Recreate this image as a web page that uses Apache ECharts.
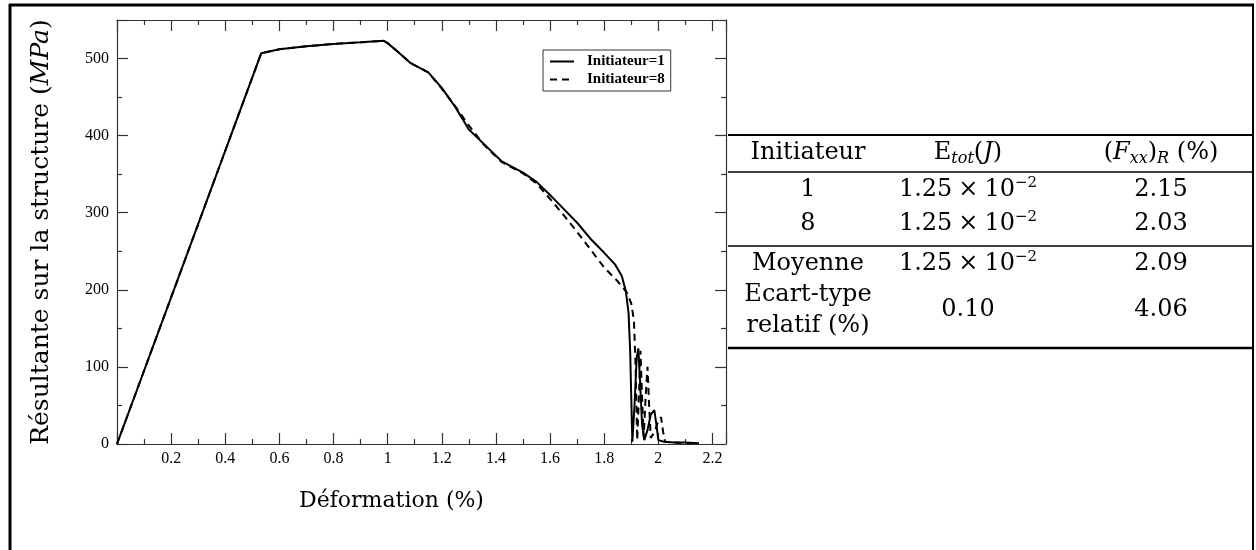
<!DOCTYPE html>
<html lang="fr">
<head>
  <meta charset="UTF-8" />
  <title>Résultante sur la structure</title>
  <script src="https://cdn.jsdelivr.net/npm/echarts@6/dist/echarts.min.js"></script>
  <style>
    html, body { margin: 0; padding: 0; background: #fff; }
    #chart { width: 1256px; height: 550px; }
  </style>
</head>
<body>
  <div id="chart"></div>
  <script>
    // courbe Initiateur=1 : [déformation %, résultante MPa]
    const init1 = [
      [0, 0], [0.533, 507], [0.6, 512], [0.7, 516], [0.8, 519], [0.9, 521], [0.985, 523],
      [1.0, 520], [1.05, 505], [1.085, 494], [1.15, 482], [1.2, 462], [1.25, 437],
      [1.3, 408], [1.356, 389], [1.42, 367], [1.5, 352], [1.55, 340], [1.6, 323],
      [1.65, 305], [1.7, 287], [1.75, 266], [1.8, 248], [1.84, 233], [1.865, 218],
      [1.88, 198], [1.89, 170], [1.896, 120], [1.9, 60], [1.904, 3], [1.912, 50],
      [1.92, 112], [1.926, 124], [1.932, 85], [1.94, 25], [1.948, 5], [1.96, 18],
      [1.972, 38], [1.985, 44], [1.993, 25], [2.0, 5], [2.02, 3], [2.06, 2], [2.1, 2], [2.15, 1]
    ];
    // courbe Initiateur=8
    const init8 = [
      [0, 0], [0.533, 507], [0.6, 512], [0.7, 516], [0.8, 519], [0.9, 521], [0.985, 523],
      [1.0, 520], [1.05, 505], [1.085, 494], [1.15, 482], [1.2, 461], [1.25, 438],
      [1.3, 413], [1.356, 388], [1.42, 366], [1.5, 351], [1.55, 338], [1.6, 318],
      [1.65, 297], [1.7, 275], [1.75, 252], [1.8, 229], [1.85, 211], [1.885, 196],
      [1.9, 182], [1.91, 160], [1.916, 100], [1.922, 5], [1.928, 60], [1.934, 121],
      [1.94, 60], [1.946, 10], [1.953, 60], [1.96, 100], [1.966, 50], [1.972, 8],
      [1.985, 15], [2.0, 30], [2.01, 35], [2.018, 15], [2.025, 3], [2.05, 2], [2.1, 1], [2.15, 1]
    ];
    const seriesNames = ['Initiateur=1', 'Initiateur=8'];

    // tableau
    const colInit = ['1', '8', 'Moyenne', 'Ecart-type\nrelatif (%)'];
    const colEnergy = ['1.25', '1.25', '1.25', '0.10'];
    const energyExp = [-2, -2, -2, null];
    const colFxx = ['2.15', '2.03', '2.09', '4.06'];

    const serif = 'DejaVu Serif';
    const mkRich = fs => ({
      n: { fontFamily: serif, fontSize: fs, lineHeight: 28, color: '#000' },
      it: { fontFamily: serif, fontSize: fs, lineHeight: 28, fontStyle: 'italic', color: '#000' },
      sp: { fontFamily: serif, fontSize: fs, lineHeight: 28, color: '#000', width: 6 },
      sup: { fontFamily: serif, fontSize: 15, lineHeight: 14, verticalAlign: 'top', color: '#000' },
      subi: { fontFamily: serif, fontSize: 16, lineHeight: 14, verticalAlign: 'bottom', fontStyle: 'italic', color: '#000' }
    });
    const rich = mkRich(24);

    const colX = [808, 968, 1161];
    const rowY = [190, 224, 264, 310];

    const txt = (x, y, s) => ({
      type: 'text', x: x, y: y,
      style: { text: s, rich: rich, align: 'center', verticalAlign: 'middle' }
    });
    const hline = (y, w) => ({
      type: 'line', shape: { x1: 728, y1: y, x2: 1253, y2: y },
      style: { stroke: '#000', lineWidth: w }
    });

    const graphics = [
      // cadre
      { type: 'line', shape: { x1: 10, y1: 4, x2: 10, y2: 550 }, style: { stroke: '#000', lineWidth: 3 } },
      { type: 'line', shape: { x1: 9, y1: 5, x2: 1254, y2: 5 }, style: { stroke: '#000', lineWidth: 3 } },
      { type: 'line', shape: { x1: 1253, y1: 4, x2: 1253, y2: 550 }, style: { stroke: '#000', lineWidth: 2 } },
      hline(135, 2), hline(172, 1.5), hline(246, 1.5), hline(348, 2.5),
      txt(colX[0], 153, '{n|Initiateur}'),
      txt(colX[1], 153, '{n|E}{subi|tot}{n|(}{it|J}{n|)}'),
      txt(colX[2], 153, '{n|(}{it|F}{subi|xx}{n|)}{subi|R}{n| (%)}')
    ];
    colInit.forEach((s, i) => {
      if (s.includes('\n')) {
        graphics.push({
          type: 'text', x: colX[0], y: rowY[i],
          style: { text: s, font: '24px "DejaVu Serif"', fill: '#000', align: 'center',
                   verticalAlign: 'middle', lineHeight: 31 }
        });
      } else {
        graphics.push(txt(colX[0], rowY[i], '{n|' + s + '}'));
      }
      const e = energyExp[i] === null ? '{n|' + colEnergy[i] + '}'
        : '{n|' + colEnergy[i] + '}{sp| }{n|×}{sp| }{n|10}{sup|−' + Math.abs(energyExp[i]) + '}';
      graphics.push(txt(colX[1], rowY[i], e));
      graphics.push(txt(colX[2], rowY[i], '{n|' + colFxx[i] + '}'));
    });

    const tickFont = { fontFamily: 'Liberation Serif', fontSize: 16, color: '#000' };
    const frameLine = { show: true, onZero: false, lineStyle: { color: '#333', width: 1.2 } };
    const ticks = { show: true, inside: true, length: 11, lineStyle: { color: '#333', width: 1.2 } };
    const minor = { show: true, splitNumber: 2, length: 5, lineStyle: { color: '#333', width: 1.2 } };

    const chart = echarts.init(document.getElementById('chart'));
    chart.setOption({
      animation: false,
      grid: { left: 117, top: 20, width: 609, height: 424 },
      legend: {
        left: 543, top: 50, orient: 'vertical',
        data: seriesNames,
        itemWidth: 24, itemHeight: 12, itemGap: 3,
        padding: [4, 6, 4, 6],
        borderColor: '#333', borderWidth: 1, backgroundColor: '#fff',
        itemStyle: { color: 'transparent', borderWidth: 0 },
        textStyle: { fontFamily: 'Liberation Serif', fontSize: 15, fontWeight: 'bold', color: '#000', padding: [0, 0, 0, 8] }
      },
      xAxis: [{
        type: 'value', min: 0, max: 2.25, interval: 0.2,
        name: 'Déformation (%)', nameLocation: 'middle', nameGap: 46,
        nameTextStyle: { fontFamily: serif, fontSize: 22, color: '#000', padding: [0, 60, 0, 0] },
        axisLine: frameLine, axisTick: ticks, minorTick: minor, splitLine: { show: false },
        axisLabel: Object.assign({ margin: 7, showMaxLabel: false,
          formatter: v => (v === 0 || v > 2.21) ? '' : String(+v.toFixed(1)) }, tickFont)
      }, {
        type: 'value', position: 'top', min: 0, max: 2.25, interval: 0.2,
        axisLine: frameLine, axisTick: ticks, minorTick: minor, splitLine: { show: false },
        axisLabel: { show: false }
      }],
      yAxis: [{
        type: 'value', min: 0, max: 550, interval: 100,
        name: '{n|Résultante sur la structure (}{it|MPa}{n|)}',
        nameLocation: 'middle', nameGap: 62, nameRotate: 90,
        nameTextStyle: { rich: mkRich(25) },
        axisLine: frameLine, axisTick: ticks, minorTick: minor, splitLine: { show: false },
        axisLabel: Object.assign({ margin: 8, showMaxLabel: false,
          formatter: v => v > 500 ? '' : String(v) }, tickFont)
      }, {
        type: 'value', position: 'right', min: 0, max: 550, interval: 100,
        axisLine: frameLine, axisTick: ticks, minorTick: minor, splitLine: { show: false },
        axisLabel: { show: false }
      }],
      series: [{
        name: seriesNames[0], type: 'line', data: init1,
        symbol: 'none', lineStyle: { color: '#000', width: 2 }, itemStyle: { color: '#000' }
      }, {
        name: seriesNames[1], type: 'line', data: init8,
        symbol: 'none', lineStyle: { color: '#000', width: 2, type: [7, 5] }, itemStyle: { color: '#000' }
      }],
      graphic: graphics
    });
  </script>
</body>
</html>
